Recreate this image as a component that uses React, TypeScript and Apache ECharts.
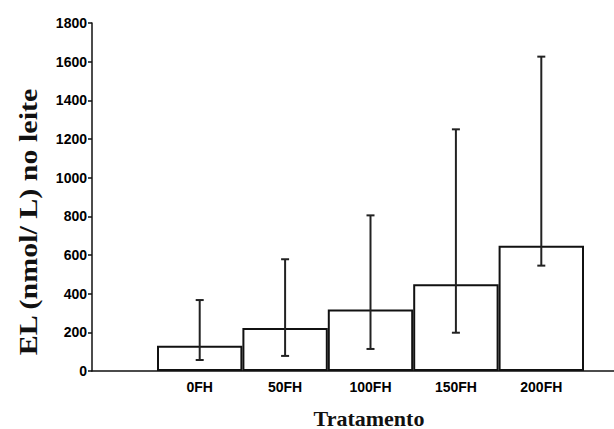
import React, { useEffect, useRef } from "react";
import * as echarts from "echarts";

const categories = ["0FH", "50FH", "100FH", "150FH", "200FH"];
const means = [131, 222, 318, 449, 648];
const lower = [57, 78, 114, 198, 545];
const upper = [367, 578, 805, 1250, 1626];
const yTicks = { min: 0, max: 1800, interval: 200 };
const yTitle = "EL (nmol/ L) no leite";
const xTitle = "Tratamento";

const labelFont = "'Liberation Sans Narrow', 'Liberation Sans', Arial, sans-serif";

export default function App() {
  const ref = useRef<HTMLDivElement>(null);
  useEffect(() => {
    if (!ref.current) return;
    const chart = echarts.init(ref.current, undefined, { renderer: "svg" });
    const errData = categories.map((_, i) => [i, lower[i], upper[i]]);
    chart.setOption({
      animation: false,
      backgroundColor: "#ffffff",
      grid: [
        { left: 92, right: 0, top: 23, bottom: 58 },
        { left: 157, right: 30, top: 23, bottom: 58 },
      ],
      xAxis: [
        {
          gridIndex: 0,
          type: "value",
          min: 0,
          max: 1,
          axisLine: { show: true, onZero: false, lineStyle: { color: "#111", width: 1.5 } },
          axisTick: { show: false },
          axisLabel: { show: false },
          splitLine: { show: false },
        },
        {
          gridIndex: 1,
          type: "category",
          data: categories,
          axisLine: { show: false },
          axisTick: { show: false },
          axisLabel: {
            color: "#000",
            fontFamily: labelFont,
            fontWeight: "bold",
            fontSize: 14,
            margin: 9,
          },
        },
      ],
      yAxis: [
        {
          gridIndex: 0,
          type: "value",
          ...yTicks,
          axisLine: { show: true, lineStyle: { color: "#111", width: 1.5 } },
          axisTick: { show: true, length: 4, lineStyle: { color: "#111", width: 1.5 } },
          axisLabel: {
            color: "#000",
            fontFamily: labelFont,
            fontWeight: "bold",
            fontSize: 14,
            margin: 5,
            formatter: (v: number) => String(v),
          },
          splitLine: { show: false },
        },
        {
          gridIndex: 1,
          type: "value",
          ...yTicks,
          show: false,
          splitLine: { show: false },
        },
      ],
      series: [
        {
          type: "bar",
          xAxisIndex: 1,
          yAxisIndex: 1,
          data: means,
          barWidth: "100%",
          itemStyle: { color: "#ffffff", borderColor: "#111", borderWidth: 2 },
          z: 2,
        },
        {
          type: "custom",
          xAxisIndex: 1,
          yAxisIndex: 1,
          data: errData,
          z: 5,
          renderItem: (params: any, api: any) => {
            const x = api.value(0);
            const lo = api.coord([x, api.value(1)]);
            const hi = api.coord([x, api.value(2)]);
            const hw = 4;
            const style = { stroke: "#222", lineWidth: 2 };
            return {
              type: "group",
              children: [
                { type: "line", shape: { x1: lo[0], y1: lo[1], x2: hi[0], y2: hi[1] }, style },
                { type: "line", shape: { x1: hi[0] - hw, y1: hi[1], x2: hi[0] + hw, y2: hi[1] }, style },
                { type: "line", shape: { x1: lo[0] - hw, y1: lo[1], x2: lo[0] + hw, y2: lo[1] }, style },
              ],
            };
          },
        },
      ],
      graphic: [
        {
          type: "text",
          x: 28,
          y: 222,
          rotation: Math.PI / 2,
          scaleX: 1.2,
          style: {
            text: yTitle,
            font: "bold 25px 'Liberation Serif', 'Times New Roman', serif",
            fill: "#111",
            align: "center",
            verticalAlign: "middle",
          },
        },
        {
          type: "text",
          x: 369,
          y: 418,
          style: {
            text: xTitle,
            font: "bold 22px 'Liberation Serif', 'Times New Roman', serif",
            fill: "#111",
            align: "center",
            verticalAlign: "middle",
          },
        },
      ],
    });
    return () => chart.dispose();
  }, []);
  return <div ref={ref} style={{ width: 614, height: 429, position: "absolute", left: 0, top: 0 }} />;
}
